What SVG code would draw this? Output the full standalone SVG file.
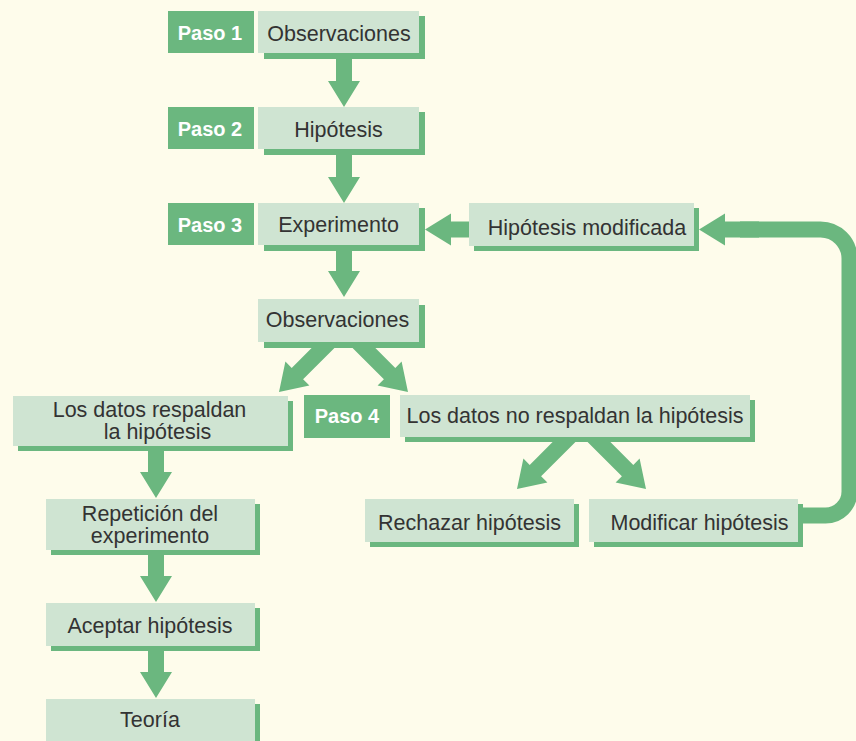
<svg xmlns="http://www.w3.org/2000/svg" xmlns:xlink="http://www.w3.org/1999/xlink" width="856" height="741" viewBox="0 0 856 741">
<style>
.bg{fill:#FEFCEB}
.box{fill:#CFE4D2}
.sh{fill:#6BB77F}
.paso{fill:#6BB77F}
.arr{fill:#6BB77F}
.loop{fill:none;stroke:#6BB77F;stroke-width:16}
.t{font-family:"Liberation Sans",Arial,Helvetica,sans-serif;font-size:21.5px;fill:#333333;text-anchor:middle}
.p{font-family:"Liberation Sans",Arial,Helvetica,sans-serif;font-size:20px;font-weight:bold;fill:#FFFFFF;text-anchor:middle}
</style>
<defs>
<path id="vArr" d="M-8,-60 H8 V-26 H16 L0,0 L-16,-26 H-8 Z"/>
<path id="dArr" d="M54.3,-65.7 L12.7,-24.1 L6.4,-30.4 L0,0 L30.4,-6.4 L24.1,-12.7 L65.7,-54.3 Z"/>
</defs>
<rect class="bg" x="0" y="0" width="856" height="741"/>
<g id="connectors" class="arr">
<use xlink:href="#vArr" href="#vArr" transform="translate(344,107)"/>
<use xlink:href="#vArr" href="#vArr" transform="translate(344,203)"/>
<use xlink:href="#vArr" href="#vArr" transform="translate(344,297)"/>
<use xlink:href="#vArr" href="#vArr" transform="translate(156,498)"/>
<use xlink:href="#vArr" href="#vArr" transform="translate(156,602)"/>
<use xlink:href="#vArr" href="#vArr" transform="translate(156,698)"/>
<use xlink:href="#vArr" href="#vArr" transform="translate(425,229.5) rotate(90)"/>
<use xlink:href="#dArr" href="#dArr" transform="translate(279,392)"/>
<use xlink:href="#dArr" href="#dArr" transform="translate(408,392) scale(-1,1)"/>
<use xlink:href="#dArr" href="#dArr" transform="translate(517,489)"/>
<use xlink:href="#dArr" href="#dArr" transform="translate(646,489) scale(-1,1)"/>
<path class="loop" d="M740,229.5 H820.5 A29,29 0 0 1 849.5,258.5 V491.5 A24,24 0 0 1 825.5,515.5 H790"/>
<use xlink:href="#vArr" href="#vArr" transform="translate(699,229.5) rotate(90)"/>
</g>
<g id="paso1"><rect class="paso" x="168" y="11" width="86" height="42"/><text class="p" x="210" y="40">Paso 1</text></g>
<g id="paso2"><rect class="paso" x="168" y="107" width="86" height="42"/><text class="p" x="210" y="136">Paso 2</text></g>
<g id="paso3"><rect class="paso" x="168" y="203" width="86" height="42"/><text class="p" x="210" y="232">Paso 3</text></g>
<g id="paso4"><rect class="paso" x="304" y="395" width="86" height="43"/><text class="p" x="347" y="423">Paso 4</text></g>
<g id="observaciones1"><rect class="sh" x="264" y="16" width="161" height="43"/><rect class="box" x="258" y="11" width="161" height="42"/><text class="t" x="339" y="40.5">Observaciones</text></g>
<g id="hipotesis"><rect class="sh" x="264" y="112" width="161" height="43"/><rect class="box" x="258" y="107" width="161" height="42"/><text class="t" x="338.5" y="136.5">Hipótesis</text></g>
<g id="experimento"><rect class="sh" x="264" y="208" width="161" height="43"/><rect class="box" x="258" y="203" width="161" height="42"/><text class="t" x="338.5" y="232">Experimento</text></g>
<g id="observaciones2"><rect class="sh" x="264" y="305" width="161" height="43"/><rect class="box" x="258" y="299" width="161" height="43"/><text class="t" x="337.5" y="327">Observaciones</text></g>
<g id="hipotesis-modificada"><rect class="sh" x="474" y="208" width="225" height="43"/><rect class="box" x="469" y="203" width="225" height="43"/><text class="t" x="587" y="235">Hipótesis modificada</text></g>
<g id="datos-no"><rect class="sh" x="405" y="400" width="350" height="42"/><rect class="box" x="400" y="395" width="350" height="42"/><text class="t" x="575" y="423">Los datos no respaldan la hipótesis</text></g>
<g id="datos-si"><rect class="sh" x="18" y="401" width="275" height="50"/><rect class="box" x="13" y="396" width="275" height="50"/><text class="t" x="149.5" y="417">Los datos respaldan</text><text class="t" x="157.5" y="439">la hipótesis</text></g>
<g id="rechazar"><rect class="sh" x="370" y="504" width="209" height="43"/><rect class="box" x="365" y="499" width="209" height="43"/><text class="t" x="469.5" y="530">Rechazar hipótesis</text></g>
<g id="modificar"><rect class="sh" x="594" y="504" width="209" height="43"/><rect class="box" x="589" y="499" width="209" height="43"/><text class="t" x="699.5" y="530">Modificar hipótesis</text></g>
<g id="repeticion"><rect class="sh" x="51" y="504" width="209" height="51"/><rect class="box" x="46" y="499" width="209" height="51"/><text class="t" x="150" y="521">Repetición del</text><text class="t" x="150" y="543">experimento</text></g>
<g id="aceptar"><rect class="sh" x="51" y="608" width="209" height="43"/><rect class="box" x="46" y="603" width="209" height="43"/><text class="t" x="150" y="633">Aceptar hipótesis</text></g>
<g id="teoria"><rect class="sh" x="51" y="704" width="209" height="50"/><rect class="box" x="46" y="699" width="209" height="50"/><text class="t" x="150" y="727">Teoría</text></g>
</svg>
